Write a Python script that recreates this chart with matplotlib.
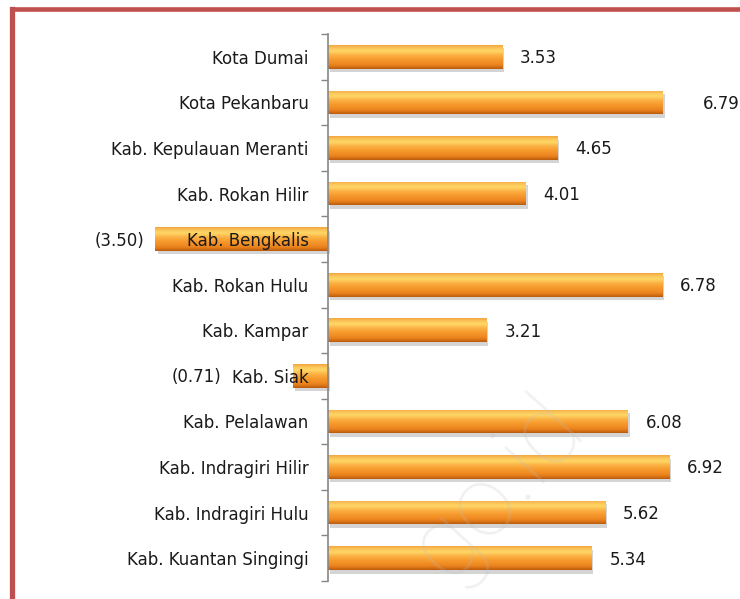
import numpy as np
import matplotlib
matplotlib.use("Agg")
import matplotlib.pyplot as plt
from matplotlib import patheffects as pe
from matplotlib.lines import Line2D
from matplotlib.colors import LinearSegmentedColormap

# ---- data (top to bottom as displayed) ----
categories = ["Kota Dumai", "Kota Pekanbaru", "Kab. Kepulauan Meranti", "Kab. Rokan Hilir",
              "Kab. Bengkalis", "Kab. Rokan Hulu", "Kab. Kampar", "Kab. Siak",
              "Kab. Pelalawan", "Kab. Indragiri Hilir", "Kab. Indragiri Hulu",
              "Kab. Kuantan Singingi"]
values = [3.53, 6.79, 4.65, 4.01, -3.50, 6.78, 3.21, -0.71, 6.08, 6.92, 5.62, 5.34]
value_labels = ["3.53", "6.79", "4.65", "4.01", "(3.50)", "6.78", "3.21", "(0.71)",
                "6.08", "6.92", "5.62", "5.34"]

plt.rcParams['font.family'] = ["DejaVu Sans"]
FS = 12

W, H = 740, 599
fig = plt.figure(figsize=(W / 100, H / 100), dpi=100)
fig.patch.set_facecolor("white")

ax_left, ax_right = 100, 735
ax_top, ax_bot = 34, 581
ax = fig.add_axes([ax_left / W, 1 - ax_bot / H, (ax_right - ax_left) / W, (ax_bot - ax_top) / H])
ppu = 49.3
x0 = 328
xmin = (ax_left - x0) / ppu
xmax = (ax_right - x0) / ppu

n = len(categories)
pos = np.arange(n)[::-1]

# vertical gradient for bars (top -> bottom)
stops = [(0.00, "#F3A640"), (0.10, "#FAC157"), (0.25, "#FFD866"), (0.40, "#FBB447"),
         (0.60, "#F79A2C"), (0.82, "#EC8520"), (0.93, "#D46E12"), (1.00, "#B85C10")]
cmap = LinearSegmentedColormap.from_list("barg", stops)
grad = np.linspace(0, 1, 64).reshape(-1, 1)

bh = 0.52
bars = ax.barh(pos, values, height=bh, color="#F79A2C", edgecolor="none", zorder=2)
for b, v, p in zip(bars, values, pos):
    b.set_path_effects([pe.SimplePatchShadow(offset=(1.5, -2.5), shadow_rgbFace="#a0a0a0", alpha=0.45),
                        pe.Normal()])
    im = ax.imshow(grad, cmap=cmap, aspect="auto", interpolation="bilinear",
                   extent=(min(0, v), max(0, v), p - bh / 2, p + bh / 2), origin="upper", zorder=3)
    im.set_clip_path(b)

# value labels
extra = {1: 16}  # points of extra offset for the manually moved label
for i, (v, lab, p) in enumerate(zip(values, value_labels, pos)):
    if v >= 0:
        ax.annotate(lab, (v, p), xytext=(13 + extra.get(i, 0), -1), textcoords="offset points",
                    ha="left", va="center", fontsize=FS, color="#1a1a1a", zorder=5)
    else:
        xt = v if v < -1.93 else -1.93
        ax.annotate(lab, (xt, p), xytext=(-8, -1), textcoords="offset points",
                    ha="right", va="center", fontsize=FS, color="#1a1a1a", zorder=5)

ax.set_xlim(xmin, xmax)
ax.set_ylim(-0.5, n - 0.5)
ax.set_yticks(pos)
ax.set_yticklabels(categories)
ax.set_yticks(np.arange(n + 1) - 0.5, minor=True)
ax.tick_params(axis="y", which="major", length=0, pad=14, labelsize=FS, labelcolor="#1a1a1a")
ax.tick_params(axis="y", which="minor", length=5, width=1, color="#868686", direction="out")
ax.set_xticks([])
for s in ["top", "right", "bottom"]:
    ax.spines[s].set_visible(False)
ax.spines["left"].set_position(("data", 0))
ax.spines["left"].set_color("#868686")
ax.spines["left"].set_linewidth(1.2)
ax.spines["left"].set_zorder(6)
ax.yaxis.set_zorder(7)
ax.patch.set_alpha(0)

# watermark
fig.text(497 / W, 1 - 488 / H, "go.id", fontsize=72, color="#bdbdbd", alpha=0.22,
         rotation=48, ha="center", va="center", family=["Roboto", "DejaVu Sans"],
         fontweight=200, zorder=10)

# red frame (top and left visible)
red = "#C0504D"
fig.add_artist(Line2D([11.5 / W, 1.02], [1 - 9 / H, 1 - 9 / H], color=red, lw=3.3,
                      transform=fig.transFigure, solid_capstyle="projecting"))
fig.add_artist(Line2D([11.5 / W, 11.5 / W], [1 - 9 / H, -0.02], color=red, lw=3.8,
                      transform=fig.transFigure, solid_capstyle="projecting"))

fig.savefig("out.png", dpi=100)
